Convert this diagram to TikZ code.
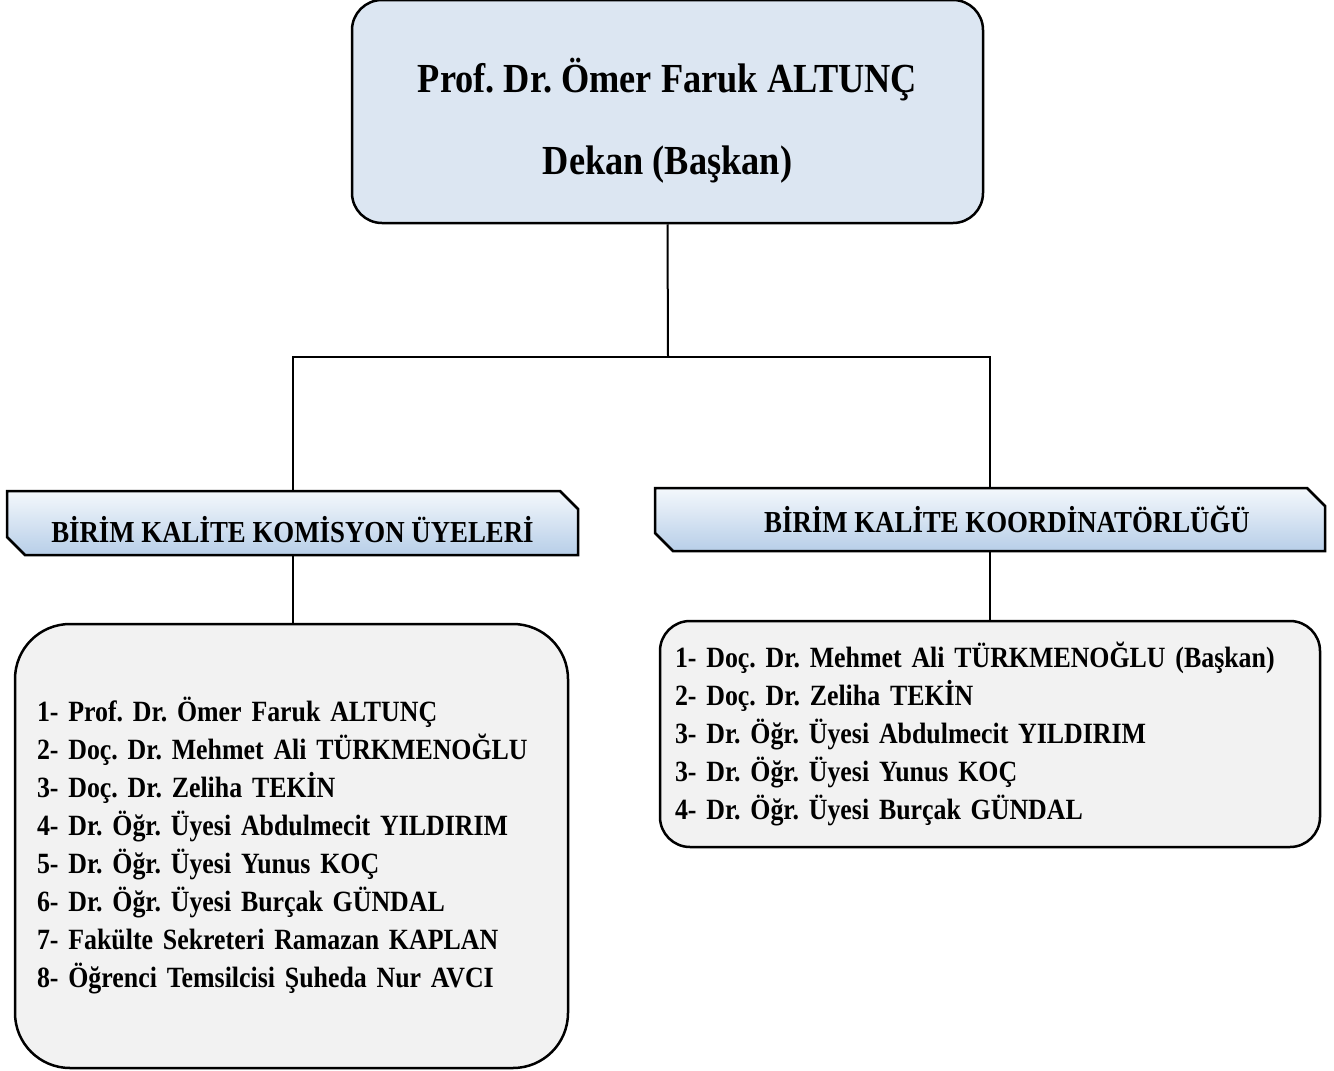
\documentclass[tikz,border=0pt]{standalone}
\usepackage{fontspec}
\setmainfont{Liberation Serif}[FakeStretch=0.88]
\usepackage{xcolor}
\usepackage{tikz}
\usetikzlibrary{shapes.misc}
\frenchspacing

\definecolor{deanblue}{HTML}{DCE6F2}
\definecolor{bannertop}{HTML}{F4F8FC}
\definecolor{bannerbottom}{HTML}{B7CEE8}
\definecolor{listgray}{HTML}{F2F2F2}

\begin{document}
\begin{tikzpicture}[x=1pt, y=-1pt,
    link/.style={line width=2pt},
    boxline/.style={draw, line width=2.5pt},
    banner/.style={boxline, chamfered rectangle, chamfered rectangle corners={north east, south west},
        chamfered rectangle sep=9pt, top color=bannertop, bottom color=bannerbottom,
        font=\fontsize{30.5}{34}\selectfont\bfseries, inner sep=0pt},
    memberlist/.style={boxline, fill=listgray, align=left, inner ysep=0pt,
        font=\fontsize{29.4}{38}\selectfont\bfseries}]
    \useasboundingbox (0, 0) rectangle (1334, 1071);

    \node[boxline, fill=deanblue, rounded corners=30pt, minimum width=631pt, minimum height=223pt,
        align=center, font=\fontsize{41.3}{82}\selectfont\bfseries] at (667.5, 111.5) (dean)
        {\rule{0pt}{53pt}Prof. Dr. Ömer Faruk ALTUNÇ\\Dekan (Başkan)};

    \node[banner, minimum width=571pt, minimum height=64pt] at (292.5, 523) (commission)
        {\raisebox{-7pt}[\height][\depth]{BİRİM KALİTE KOMİSYON ÜYELERİ}};
    \node[banner, minimum width=670pt, minimum height=63pt] at (990, 519.5) (coordination)
        {\hspace{34pt}BİRİM KALİTE KOORDİNATÖRLÜĞÜ};

    \node[memberlist, rounded corners=55pt, minimum width=553pt, minimum height=444pt,
        inner xsep=22pt, text width=509pt] at (291.5, 846) (members)
        {1- Prof. Dr. Ömer Faruk ALTUNÇ\\
         2- Doç. Dr. Mehmet Ali TÜRKMENOĞLU\\
         3- Doç. Dr. Zeliha TEKİN\\
         4- Dr. Öğr. Üyesi Abdulmecit YILDIRIM\\
         5- Dr. Öğr. Üyesi Yunus KOÇ\\
         6- Dr. Öğr. Üyesi Burçak GÜNDAL\\
         7- Fakülte Sekreteri Ramazan KAPLAN\\
         8- Öğrenci Temsilcisi Şuheda Nur AVCI};
    \node[memberlist, rounded corners=30pt, minimum width=660pt, minimum height=226pt,
        inner xsep=15pt, text width=630pt] at (990, 734) (coordinators)
        {1- Doç. Dr. Mehmet Ali TÜRKMENOĞLU (Başkan)\\
         2- Doç. Dr. Zeliha TEKİN\\
         3- Dr. Öğr. Üyesi Abdulmecit YILDIRIM\\
         3- Dr. Öğr. Üyesi Yunus KOÇ\\
         4- Dr. Öğr. Üyesi Burçak GÜNDAL};

    \coordinate (split) at (668, 357);
    \draw[link] (dean.south) -- (split);
    \draw[link] (split) -| (commission.north);
    \draw[link] (split) -| (coordination.north);
    \draw[link] (commission.south) -- (commission.south |- members.north);
    \draw[link] (coordination.south) -- (coordination.south |- coordinators.north);
\end{tikzpicture}
\end{document}
